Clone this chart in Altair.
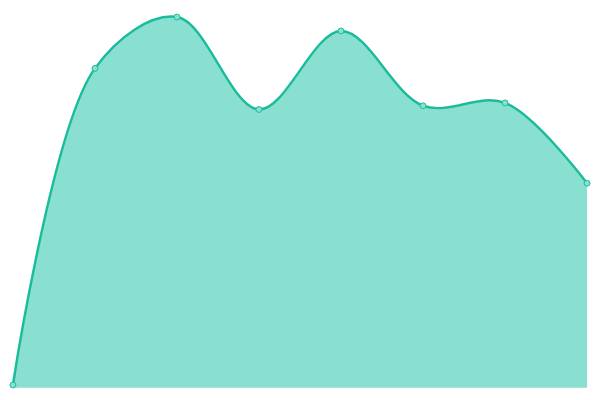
import altair as alt
import pandas as pd

steps = [0, 1, 2, 3, 4, 5, 6, 7]
values = [3, 342, 397, 298, 382, 302, 305, 219]

df = pd.DataFrame({"step": steps, "value": values})

LINE = "#1ABC9C"
FILL = "#8AE0D0"

x = alt.X("step:Q", scale=alt.Scale(domain=[0, 7], nice=False, zero=False), axis=None)
y = alt.Y("value:Q", scale=alt.Scale(domain=[0, 400], nice=False), axis=None)

base = alt.Chart(df)
area = base.mark_area(interpolate="catmull-rom", color=FILL, opacity=1).encode(x=x, y=y)
line = base.mark_line(interpolate="catmull-rom", color=LINE, strokeWidth=2.5).encode(x=x, y=y)
pts = base.mark_point(filled=True, fill=FILL, stroke=LINE, strokeWidth=1, size=36, opacity=1).encode(x=x, y=y)

chart = (area + line + pts).properties(
    width=584, height=380, padding=0, background="white"
).configure_view(stroke=None)

chart.save("out.html", embed_options={"renderer": "svg", "actions": False})
